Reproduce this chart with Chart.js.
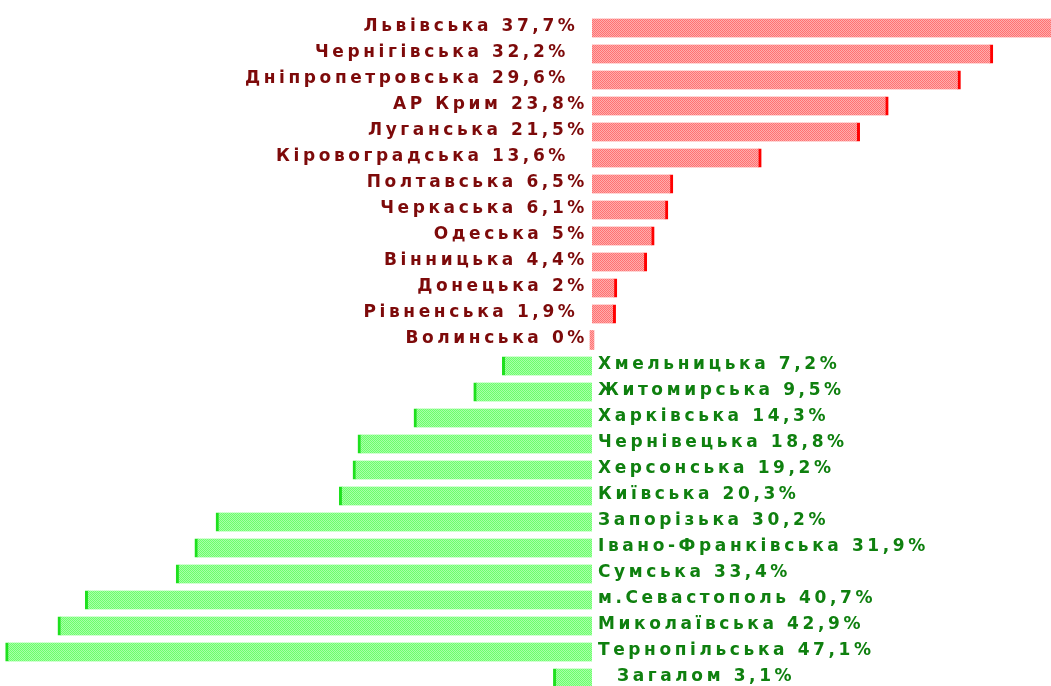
<!DOCTYPE html>
<html>
<head>
<meta charset="utf-8">
<script src="https://cdn.jsdelivr.net/npm/chart.js@4.4.1/dist/chart.umd.min.js"></script>
<style>
  html, body { margin: 0; padding: 0; background: #fff; overflow: hidden; }
  canvas { display: block; }
</style>
</head>
<body>
<canvas id="regionChart" width="1051" height="692"></canvas>
<script>
// Regions, share in % (positive = red, negative = green)
const regions = [
  'Львівська', 'Чернігівська', 'Дніпропетровська', 'АР Крим', 'Луганська',
  'Кіровоградська', 'Полтавська', 'Черкаська', 'Одеська', 'Вінницька',
  'Донецька', 'Рівненська', 'Волинська',
  'Хмельницька', 'Житомирська', 'Харківська', 'Чернівецька', 'Херсонська',
  'Київська', 'Запорізька', 'Івано-Франківська', 'Сумська', 'м.Севастополь',
  'Миколаївська', 'Тернопільська', 'Загалом'
];

const values = [
  37.7, 32.2, 29.6, 23.8, 21.5,
  13.6, 6.5, 6.1, 5, 4.4,
  2, 1.9, 0,
  -7.2, -9.5, -14.3, -18.8, -19.2,
  -20.3, -30.2, -31.9, -33.4, -40.7,
  -42.9, -47.1, -3.1
];

// label texts as shown next to the bars (spaces kept as in the picture)
const labelTexts = [
  'Львівська 37,7% ', 'Чернігівська 32,2%  ', 'Дніпропетровська 29,6%  ', 'АР Крим 23,8%', 'Луганська 21,5%',
  'Кіровоградська 13,6%  ', 'Полтавська 6,5%', 'Черкаська 6,1%', 'Одеська 5%', 'Вінницька 4,4%',
  'Донецька 2%', 'Рівненська 1,9% ', 'Волинська 0%',
  'Хмельницька 7,2%', 'Житомирська 9,5%', 'Харківська 14,3%', 'Чернівецька 18,8%', 'Херсонська 19,2%',
  'Київська 20,3%', 'Запорізька 30,2%', 'Івано-Франківська 31,9%', 'Сумська 33,4%', 'м.Севастополь 40,7%',
  'Миколаївська 42,9%', 'Тернопільська 47,1%', '  Загалом 3,1%'
];

const ctx = document.getElementById('regionChart').getContext('2d');

// dithered fill like the original gif
function makePattern(c1, c2) {
  const p = document.createElement('canvas');
  p.width = 2;
  p.height = 2;
  const g = p.getContext('2d');
  g.fillStyle = c1;
  g.fillRect(0, 0, 2, 2);
  g.fillStyle = c2;
  g.fillRect(0, 0, 1, 1);
  g.fillRect(1, 1, 1, 1);
  return ctx.createPattern(p, 'repeat');
}

const redFill = makePattern('#ffacac', '#ff7272');
const greenFill = makePattern('#a8ffa8', '#6cff6c');

const barLabels = {
  id: 'barLabels',
  afterDatasetsDraw(chart) {
    const c = chart.ctx;
    const x0 = chart.scales.x.getPixelForValue(0);
    c.save();
    c.font = 'bold 17px "DejaVu Sans"';
    c.letterSpacing = '3.6px';
    c.textBaseline = 'middle';
    values.forEach((v, i) => {
      const y = chart.scales.y.getPixelForValue(i) - 1;
      if (v >= 0) {
        c.fillStyle = '#7d0a0a';
        c.textAlign = 'right';
        c.fillText(labelTexts[i], x0 - 4, y);
      } else {
        c.fillStyle = '#0f800f';
        c.textAlign = 'left';
        c.fillText(labelTexts[i], x0 + 6, y);
      }
    });
    c.restore();
  }
};

const regionChart = new Chart(ctx, {
  type: 'bar',
  data: {
    labels: regions,
    datasets: [{
      data: values,
      backgroundColor: (c) => values[c.dataIndex] >= 0 ? redFill : greenFill,
      borderColor: (c) => values[c.dataIndex] >= 0 ? '#ff0000' : '#1ee01e',
      borderWidth: (c) => values[c.dataIndex] > 0 ? { right: 3 } : (values[c.dataIndex] < 0 ? { left: 3 } : 0),
      borderSkipped: false,
      barThickness: 19,
      minBarLength: 4
    }]
  },
  options: {
    indexAxis: 'y',
    responsive: false,
    animation: false,
    layout: {
      padding: { top: 15, bottom: 1, left: 0, right: 0 }
    },
    plugins: {
      legend: { display: false },
      tooltip: { enabled: false }
    },
    scales: {
      x: {
        display: false,
        min: -47.55,
        max: 36.87
      },
      y: {
        display: false
      }
    }
  },
  plugins: [barLabels]
});
</script>
</body>
</html>
